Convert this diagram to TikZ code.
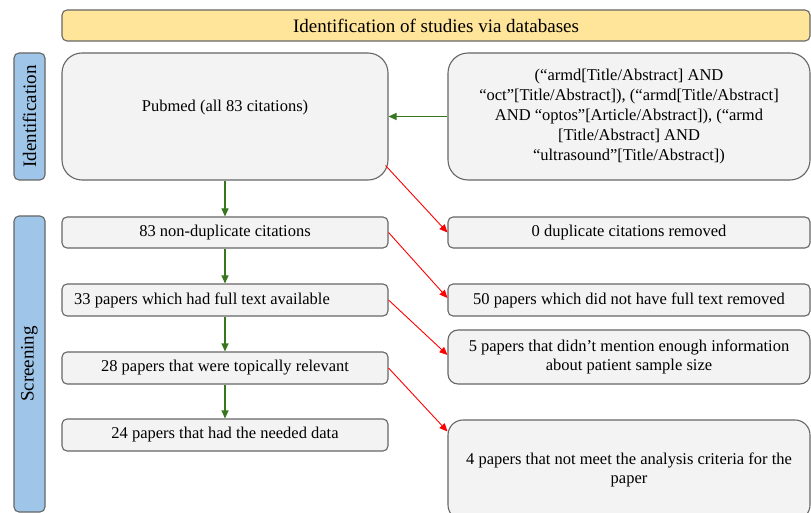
\documentclass[tikz,border=0pt]{standalone}
\usepackage{fontspec}
\setmainfont{Liberation Serif}
\usetikzlibrary{arrows.meta,calc}
\definecolor{boxfill}{HTML}{F3F3F3}
\definecolor{boxline}{HTML}{666666}
\definecolor{sidefill}{HTML}{9FC5E8}
\definecolor{titlefill}{HTML}{FFE599}
\definecolor{flowgreen}{HTML}{38761D}
\definecolor{flowred}{HTML}{FF0000}
\begin{document}
\begin{tikzpicture}[x=1pt,y=-1pt,
  box/.style={draw=boxline, fill=boxfill, line width=1.1pt, rounded corners=5pt,
    inner sep=0pt, align=center, font=\fontsize{16.5}{19.8}\selectfont},
  sidebox/.style={draw=boxline, fill=sidefill, line width=1.1pt, rounded corners=5pt,
    inner sep=0pt, minimum width=31pt},
  sidetext/.style={rotate=90, font=\fontsize{19}{22}\selectfont},
  txt/.style={inner sep=0pt, align=center, font=\fontsize{16.5}{19.8}\selectfont},
  garrow/.style={draw=flowgreen, line width=1.1pt, -{Triangle[length=8pt,width=7pt]}},
  rarrow/.style={draw=flowred, line width=0.9pt, -{Triangle[length=8pt,width=7pt]}}]
\useasboundingbox (0,0) rectangle (811,513);
% title
\node[box, fill=titlefill, minimum width=748pt, minimum height=31pt,
  font=\fontsize{19}{22}\selectfont] (title) at (436,25.5) {Identification of studies via databases};
% side labels
\node[sidebox, minimum height=127pt] (idside) at (29.5,116.5) {};
\node[sidetext] (idtext) at (idside.center) {Identification};
\node[sidebox, minimum height=296pt] (scrside) at (29.5,364) {};
\node[sidetext] (scrtext) at (scrside.center) {Screening};
% left column
\node[box, rounded corners=20pt, minimum width=326pt, minimum height=127pt] (pub) at (225,116.5) {};
\node[txt] (pubtext) at (225,108) {Pubmed (all 83 citations)};
\node[box, minimum width=326pt, minimum height=31pt] (n83) at (225,232.5) {83 non-duplicate citations};
\node[box, minimum width=326pt, minimum height=32pt] (n33) at (225,300) {};
\node[txt, anchor=west] (n33text) at (74,300) {33 papers which had full text available};
\node[box, minimum width=326pt, minimum height=32pt] (n28) at (225,368) {28 papers that were topically relevant};
\node[box, minimum width=326pt, minimum height=32pt] (n24) at (225,435) {24 papers that had the needed data};
% right column
\node[box, rounded corners=20pt, minimum width=362pt, minimum height=127pt] (query) at (629,116.5)
  {(“armd[Title/Abstract] AND\\ “oct”[Title/Abstract]), (“armd[Title/Abstract]\\ AND “optos”[Article/Abstract]), (“armd\\{}[Title/Abstract] AND\\ “ultrasound”[Title/Abstract])};
\node[box, minimum width=362pt, minimum height=31pt] (dup) at (629,232.5) {0 duplicate citations removed};
\node[box, minimum width=362pt, minimum height=32pt] (r50) at (629,300) {50 papers which did not have full text removed};
\node[box, rounded corners=10pt, minimum width=362pt, minimum height=54pt] (r5) at (629,357)
  {5 papers that didn’t mention enough information\\ about patient sample size};
\node[box, rounded corners=15pt, minimum width=362pt, minimum height=100pt] (r4) at (629,470)
  {4 papers that not meet the analysis criteria for the\\ paper};
% green flow
\draw[garrow] (query.west) -- (pub.east);
\draw[garrow] (pub.south) -- (n83.north);
\draw[garrow] (n83.south) -- (n33.north);
\draw[garrow] (n33.south) -- (n28.north);
\draw[garrow] (n28.south) -- (n24.north);
% red exclusions
\draw[rarrow] ($(pub.south east)+(-3,-15)$) -- (dup.west);
\draw[rarrow] (n83.east) -- ($(r50.west)+(0,-2)$);
\draw[rarrow] (n33.east) -- ($(r5.west)+(0,-2)$);
\draw[rarrow] (n28.east) -- ($(r4.north west)+(0,12)$);
\end{tikzpicture}
\end{document}
